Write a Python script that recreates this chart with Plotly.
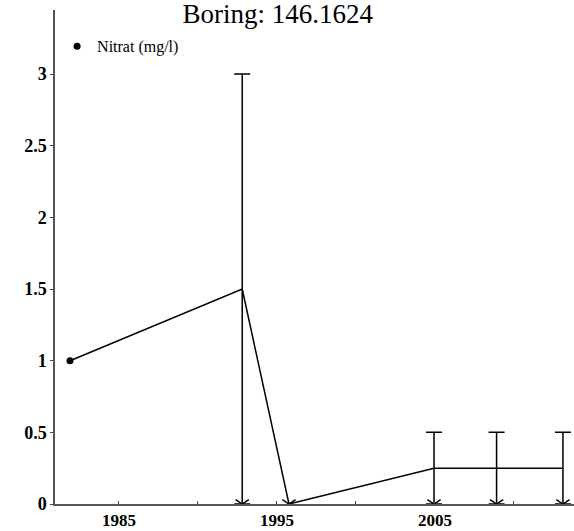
import plotly.graph_objects as go

# Data (decimal years)
years = [1981.9, 1992.8, 1995.76, 2004.94, 2008.9, 2013.1]
values = [1.0, 1.5, 0.0, 0.25, 0.25, 0.25]
upper = [1.0, 3.0, 0.0, 0.5, 0.5, 0.5]
censored = [False, True, True, True, True, True]
measured = [True, False, False, False, False, False]
has_bar = [False, True, False, True, True, True]

x_ticks = [1985, 1990, 1995, 2000, 2005, 2010]
x_ticklabels = ["1985", "", "1995", "", "2005", ""]
y_ticks = [0, 0.5, 1, 1.5, 2, 2.5, 3]
y_ticklabels = ["0", "0.5", "1", "1.5", "2", "2.5", "3"]

FONT = "Liberation Serif"

fig = go.Figure()

# connecting line
fig.add_trace(go.Scatter(
    x=years, y=values, mode="lines",
    line=dict(color="black", width=1.5),
    showlegend=False, hoverinfo="skip",
))

# error bars (range from 0 to upper limit)
bx = [x for x, h in zip(years, has_bar) if h]
by = [v for v, h in zip(values, has_bar) if h]
bup = [u - v for u, v, h in zip(upper, values, has_bar) if h]
bdn = [v for v, h in zip(values, has_bar) if h]
fig.add_trace(go.Scatter(
    x=bx, y=by, mode="markers",
    marker=dict(size=1, color="rgba(0,0,0,0)"),
    error_y=dict(type="data", symmetric=False, array=bup, arrayminus=bdn,
                 color="black", thickness=1.5, width=8),
    showlegend=False, hoverinfo="skip",
))

# downward chevrons at the lower limit for censored values
cx = [x for x, c in zip(years, censored) if c]
cy = [0 for c in censored if c]
fig.add_trace(go.Scatter(
    x=cx, y=cy, mode="markers", cliponaxis=True,
    marker=dict(symbol="y-down", size=11, color="black",
                line=dict(color="black", width=1.5)),
    showlegend=False, hoverinfo="skip",
))

# measured points
mx = [x for x, m in zip(years, measured) if m]
my = [v for v, m in zip(values, measured) if m]
fig.add_trace(go.Scatter(
    x=mx, y=my, mode="markers", name="Nitrat (mg/l)",
    marker=dict(symbol="circle", size=7, color="black"),
    showlegend=True,
))

fig.update_layout(
    width=574, height=531,
    margin=dict(l=55, r=0, t=10, b=27),
    paper_bgcolor="white", plot_bgcolor="white",
    font=dict(family=FONT, color="black"),
    title=dict(text="Boring: 146.1624", x=0.484, xanchor="center",
               xref="container", y=0.974, yanchor="middle", yref="container",
               font=dict(family=FONT, size=27, color="black")),
    legend=dict(x=0.004, y=0.961, xanchor="left", yanchor="top",
                bgcolor="rgba(0,0,0,0)", font=dict(family=FONT, size=16),
                itemwidth=30, tracegroupgap=0),
    showlegend=True,
)

fig.update_xaxes(
    range=[1980.95, 2013.8], automargin=False,
    tickmode="array", tickvals=x_ticks, ticktext=x_ticklabels,
    ticks="inside", ticklen=3, tickcolor="#444", tickwidth=1,
    showline=True, linecolor="#555", linewidth=1.5,
    showgrid=False, zeroline=False,
    tickfont=dict(family=FONT, size=17, color="black", weight="bold"),
)
fig.update_yaxes(
    range=[0, 3.447], automargin=False,
    tickmode="array", tickvals=y_ticks, ticktext=y_ticklabels,
    ticks="outside", ticklen=3, tickcolor="#444", tickwidth=1,
    showline=True, linecolor="#555", linewidth=1.5,
    showgrid=False, zeroline=False,
    tickfont=dict(family=FONT, size=18, color="black", weight="bold"),
)

fig.write_html("out.html", config={"displayModeBar": False},
               post_script="document.body.style.margin='0';")
